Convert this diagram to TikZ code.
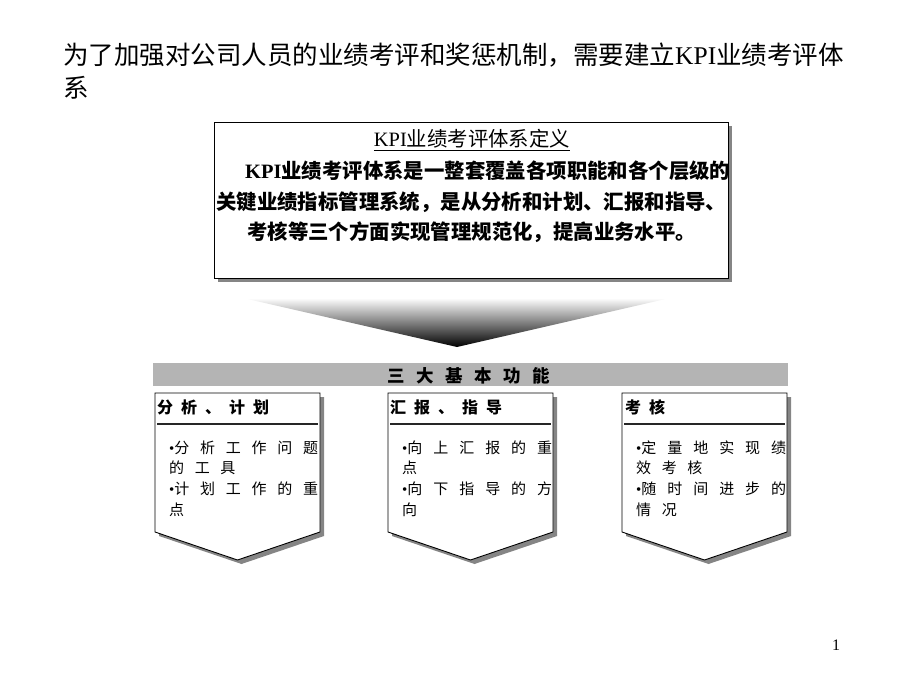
\documentclass[tikz,border=0pt]{standalone}
\usepackage{fontspec}
\setmainfont{Liberation Serif}
\newfontfamily\cjk{Noto Sans CJK SC}
\usetikzlibrary{calc}
\newcommand\kgap{\hspace{10.6pt}}
\newcommand\hgap{\hspace{8pt}}
\newcommand\bgap{\hspace{11.5pt}}
\definecolor{barcol}{RGB}{180,180,180}
\tikzset{
  txt/.style={inner sep=0pt, anchor=base west},
  shadowfill/.style={fill=black!48, draw=none},
  pent/.style={draw=black, fill=white, line width=0.9pt},
  titlefont/.style={font=\fontsize{25.5}{30}\selectfont},
  deffont/.style={font=\fontsize{20.4}{24}\selectfont},
  hdrfont/.style={font=\fontsize{16}{19}\selectfont\bfseries\cjk},
  bodyfont/.style={font=\fontsize{15}{18}\selectfont\cjk},
}
\begin{document}
\begin{tikzpicture}[x=1pt,y=-1pt]
\useasboundingbox (0,0) rectangle (920,690);
% ---- headline
\node[txt, titlefont] (t1) at (63,64.7) {{\cjk 为了加强对公司人员的业绩考评和奖惩机制，需要建立}KPI{\cjk 业绩考评体}};
\node[txt, titlefont] (t2) at (63,97.7) {\cjk 系};
% ---- definition box
\fill[shadowfill] (218,126) rectangle (732,282);
\node[draw=black, fill=white, line width=0.8pt, inner sep=0pt, minimum width=514pt, minimum height=156pt, anchor=north west] (defbox) at (214,122) {};
\node[inner sep=0pt, anchor=base, deffont] (dt) at (472,146.8) {KPI{\cjk 业绩考评体系定义}};
\draw[line width=0.8pt] ($(dt.base west)+(0,4)$) coordinate (ul1) -- ($(dt.base east)+(0,4)$) coordinate (ul2);
\node[txt, deffont] (d1) at (245,178.8) {\bfseries KPI{\cjk 业绩考评体系是一整套覆盖各项职能和各个层级的}};
\node[txt, deffont] (d2) at (216,209.3) {\bfseries\cjk 关键业绩指标管理系统，是从分析和计划、汇报和指导、};
\node[txt, deffont] (d3) at (247,239.8) {\bfseries\cjk 考核等三个方面实现管理规范化，提高业务水平。};
% ---- gradient arrow
\shade[top color=white, middle color=black!22, bottom color=black] (243,298) -- (670,298) -- (457,347) -- cycle;
% ---- bar
\node[fill=barcol, inner sep=0pt, minimum width=635pt, minimum height=23pt, anchor=north west] (bar) at (153,363) {};
\node[inner sep=0pt, anchor=base, font=\fontsize{17.5}{20}\selectfont\bfseries\cjk] (bart) at (468.5,382.7) {三\bgap 大\bgap 基\bgap 本\bgap 功\bgap 能};
% ---- pentagons
\foreach \L in {155,388,622} {
  \fill[shadowfill] (\L+4,397) -- (\L+169,397) -- (\L+169,536) -- (\L+86.5,564) -- (\L+4,536) -- cycle;
  \draw[pent] (\L,393) -- (\L+165,393) -- (\L+165,532) -- (\L+82.5,560) -- (\L,532) -- cycle;
  \draw[line width=1.6pt, black!85] (\L+2,424) -- (\L+163,424);
}
% headers
\node[txt, hdrfont] (h1) at (157,413.8) {分\hgap 析\hgap 、\hgap 计\hgap 划};
\node[txt, hdrfont] (h2) at (390,413.8) {汇\hgap 报\hgap 、\hgap 指\hgap 导};
\node[txt, hdrfont] (h3) at (625,413.8) {考\hgap 核};
% body 1
\node[txt, bodyfont] (a1) at (169,453.2) {\hbox to 149pt{{\rmfamily •}分\hfil 析\hfil 工\hfil 作\hfil 问\hfil 题}};
\node[txt, bodyfont] (a2) at (169,473.7) {的\kgap 工\kgap 具};
\node[txt, bodyfont] (a3) at (169,494.7) {\hbox to 149pt{{\rmfamily •}计\hfil 划\hfil 工\hfil 作\hfil 的\hfil 重}};
\node[txt, bodyfont] (a4) at (169,515.2) {点};
% body 2
\node[txt, bodyfont] (b1) at (402,453.2) {\hbox to 150pt{{\rmfamily •}向\hfil 上\hfil 汇\hfil 报\hfil 的\hfil 重}};
\node[txt, bodyfont] (b2) at (402,473.7) {点};
\node[txt, bodyfont] (b3) at (402,494.7) {\hbox to 150pt{{\rmfamily •}向\hfil 下\hfil 指\hfil 导\hfil 的\hfil 方}};
\node[txt, bodyfont] (b4) at (402,515.2) {向};
% body 3
\node[txt, bodyfont] (c1) at (636,453.2) {\hbox to 150pt{{\rmfamily •}定\hfil 量\hfil 地\hfil 实\hfil 现\hfil 绩}};
\node[txt, bodyfont] (c2) at (636,473.7) {效\kgap 考\kgap 核};
\node[txt, bodyfont] (c3) at (636,494.7) {\hbox to 150pt{{\rmfamily •}随\hfil 时\hfil 间\hfil 进\hfil 步\hfil 的}};
\node[txt, bodyfont] (c4) at (636,515.2) {情\kgap 况};
% page number
\node[txt, font=\fontsize{16}{19}\selectfont] (pg) at (832,650.5) {1};
\end{tikzpicture}
\end{document}
